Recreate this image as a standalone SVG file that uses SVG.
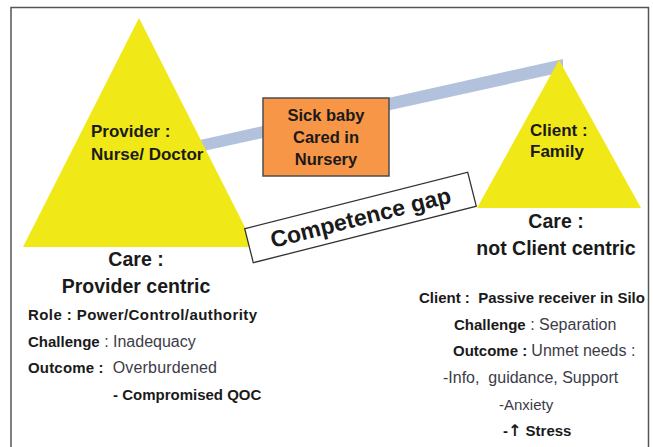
<svg xmlns="http://www.w3.org/2000/svg" width="653" height="447" viewBox="0 0 653 447">
<style>
text{font-family:"Liberation Sans",Arial,sans-serif;fill:#1a1a1a}
.b{font-weight:bold}
.r{font-weight:normal;fill:#3c3c48;font-size:16px}
.tri{fill:#f1e817}
.pre{white-space:pre}
.sm{font-size:15px}
.hd{font-size:19.5px;font-weight:bold;text-anchor:middle}
.lbl{font-size:17px;font-weight:bold}
.box{font-size:16.5px;font-weight:bold;text-anchor:middle}
.arr{font-family:"DejaVu Sans",sans-serif;font-weight:bold;font-size:16px}
</style>
<rect width="653" height="447" fill="#ffffff"/>
<path d="M11,447 V7.5 H648.5 V447" fill="none" stroke="#555555" stroke-width="1.5"/>
<g id="connectors">
<polygon points="190,142.3 563,59 563,72 190,154" fill="#b3c2dc"/>
</g>
<g id="provider">
<polygon class="tri" points="139,18 255,247 23,247"/>
<text class="lbl" x="91" y="137">Provider :</text>
<text class="lbl" x="91" y="160">Nurse/ Doctor</text>
</g>
<g id="client">
<polygon class="tri" points="559,60 641,208 477,208"/>
<text class="lbl" x="530" y="136">Client :</text>
<text class="lbl" x="530" y="157">Family</text>
</g>
<g id="sick-baby">
<rect x="263" y="98" width="126" height="78" fill="#f79646" stroke="#4d4d4d" stroke-width="1.5"/>
<text class="box" x="326" y="121">Sick baby</text>
<text class="box" x="326" y="143">Cared in</text>
<text class="box" x="326" y="165">Nursery</text>
</g>
<g id="competence-gap" transform="translate(360.5,217.5) rotate(-14.2)">
<rect x="-115" y="-17.5" width="230" height="35" fill="#ffffff" stroke="#333333" stroke-width="1.3"/>
<text x="0" y="8" text-anchor="middle" font-size="23" font-weight="bold">Competence gap</text>
</g>
<g id="provider-care">
<text class="hd" x="136" y="266">Care :</text>
<text class="hd" x="136" y="293">Provider centric</text>
<text class="sm b pre" x="28" y="320" textLength="229" lengthAdjust="spacing">Role : Power/Control/authority</text>
<text class="sm pre" x="28" y="347"><tspan class="b">Challenge</tspan><tspan class="r"> : Inadequacy</tspan></text>
<text class="sm pre" x="28" y="373" textLength="189" lengthAdjust="spacing"><tspan class="b">Outcome : </tspan><tspan class="r"> Overburdened</tspan></text>
<text class="sm b pre" x="113" y="400">- Compromised QOC</text>
</g>
<g id="client-care">
<text class="hd" x="556" y="228">Care :</text>
<text class="hd" x="556" y="255">not Client centric</text>
<text class="sm b pre" x="419" y="303">Client :  Passive receiver in Silo</text>
<text class="sm pre" x="454" y="330"><tspan class="b">Challenge</tspan><tspan class="r"> : Separation</tspan></text>
<text class="sm pre" x="453" y="356"><tspan class="b">Outcome : </tspan><tspan class="r">Unmet needs :</tspan></text>
<text class="r pre" x="443" y="383">-Info,  guidance, Support</text>
<text class="sm pre" x="499" y="410" fill="#3c3c48" style="fill:#3c3c48">-Anxiety</text>
<text class="sm b pre" x="503" y="436">-<tspan class="arr">↑</tspan> Stress</text>
</g>
</svg>
